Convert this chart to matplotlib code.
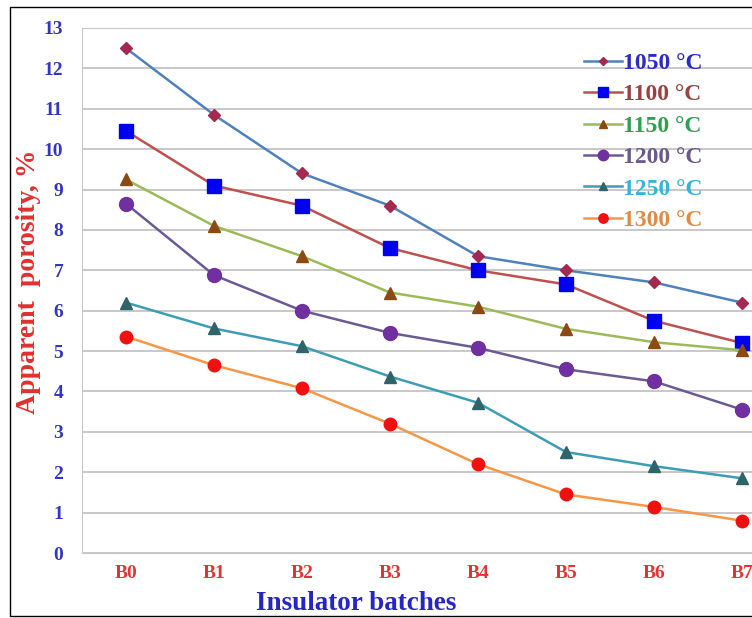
import matplotlib
matplotlib.use("Agg")
import matplotlib.pyplot as plt
from matplotlib.patches import Rectangle

batches = ["B0", "B1", "B2", "B3", "B4", "B5", "B6", "B7"]
temps = ["1050 °C", "1100 °C", "1150 °C", "1200 °C", "1250 °C", "1300 °C"]
p1050 = [12.5, 10.85, 9.4, 8.6, 7.35, 7.0, 6.7, 6.2]
p1100 = [10.45, 9.1, 8.6, 7.55, 7.0, 6.65, 5.75, 5.2]
p1150 = [9.25, 8.1, 7.35, 6.45, 6.1, 5.55, 5.22, 5.02]
p1200 = [8.65, 6.88, 6.0, 5.45, 5.08, 4.55, 4.25, 3.55]
p1250 = [6.2, 5.56, 5.12, 4.37, 3.72, 2.5, 2.15, 1.85]
p1300 = [5.36, 4.65, 4.08, 3.2, 2.2, 1.45, 1.14, 0.8]
series = [p1050, p1100, p1150, p1200, p1250, p1300]

line_colors = ["#4F81BD", "#C0504D", "#9BBB59", "#6B5A96", "#3D9DB5", "#F79646"]
marker_colors = ["#A3294F", "#0000F0", "#8B4A12", "#7030A0", "#2F6468", "#F01010"]
markers = ["D", "s", "^", "o", "^", "o"]
msizes = [6, 10, 8, 10, 8, 9]
text_colors = ["#2B2BC8", "#9A4242", "#2FA050", "#6A5A8A", "#35B5D5", "#E08A45"]

fig = plt.figure(figsize=(7.52, 6.18), dpi=100)
ax = fig.add_axes([82/752, 1-553/618, (786-82)/752, (553-28)/618])

x = list(range(len(batches)))
for s, lab, lc, mc, mk, ms in zip(series, temps, line_colors, marker_colors, markers, msizes):
    ax.plot(x, s, color=lc, lw=1.8, marker=mk, ms=ms, mfc=mc, mec=mc, label=lab, zorder=3)

ax.set_xlim(-0.5, 7.5)
ax.set_ylim(0, 13)
ax.set_yticks(range(0, 14))
ax.set_xticks(x)
ax.set_xticklabels(batches)
ax.grid(axis="y", color="#BFBFBF", lw=1.2)
ax.set_axisbelow(True)
for sp in ax.spines.values():
    sp.set_color("#C8C8C8")
ax.tick_params(length=0)
ax.tick_params(axis="y", pad=13.5, labelsize=14, labelcolor="#3535C0")
ax.tick_params(axis="x", pad=9, labelsize=14, labelcolor="#E03535")
for t in ax.get_yticklabels() + ax.get_xticklabels():
    t.set_fontfamily("Liberation Serif")
    t.set_fontweight("bold")

fig.text(29/752, 1-282/618, "Apparent  porosity, %", rotation=90, ha="center", va="center",
         fontsize=20, fontweight="bold", color="#E03030", family="Liberation Serif")
fig.text(356/752, 1-603/618, "Insulator batches", ha="center", va="center",
         fontsize=19.5, fontweight="bold", color="#2525C8", family="Liberation Serif")

leg = ax.legend(loc="upper left", bbox_to_anchor=((575-82)/704, (553-43)/525), frameon=False,
                prop={"family": "Liberation Serif", "weight": "bold", "size": 17},
                handlelength=1.6, handletextpad=0.05, labelspacing=0.42, borderaxespad=0,
                markerscale=0.75)
for t, c in zip(leg.get_texts(), text_colors):
    t.set_color(c)

fig.patches.append(Rectangle((10/752, 0.004), 1.0, 1-7/618-0.004, transform=fig.transFigure,
                             fill=False, edgecolor="black", lw=1.0))

fig.savefig("out.png", dpi=100)
